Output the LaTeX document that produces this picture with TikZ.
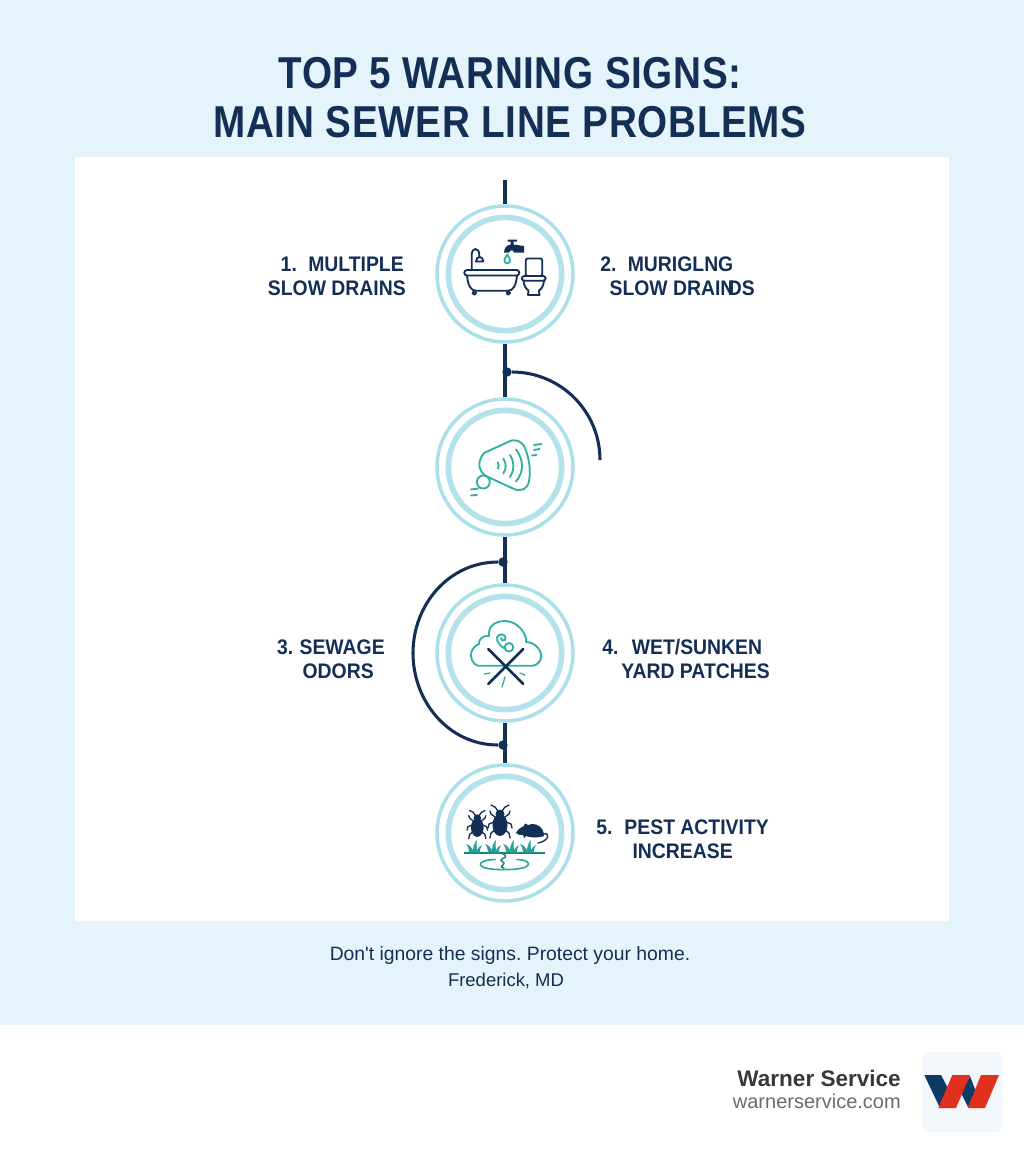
\documentclass[tikz,border=0pt]{standalone}
\usepackage{fontspec}
\setmainfont{Liberation Sans}
\newfontfamily\titlefont[LetterSpace=1.5,FakeStretch=0.865]{Liberation Sans}
\newfontfamily\labelfont[FakeStretch=0.92]{Liberation Sans}
\newfontfamily\notefont{Liberation Sans}
\definecolor{skyback}{HTML}{E5F4FA}
\definecolor{navyline}{HTML}{142F55}
\definecolor{ringblue}{HTML}{ABDFE9}
\definecolor{tealicon}{HTML}{2FB0A3}
\definecolor{darkteal}{HTML}{1F7F7C}
\definecolor{logoback}{HTML}{F2F7FC}
\definecolor{logonavy}{HTML}{0F3A66}
\definecolor{logored}{HTML}{E2301F}
\tikzset{
  outerring/.style={circle, draw=ringblue, line width=2.6pt, fill=white, minimum size=102pt, inner sep=0pt},
  innerring/.style={circle, draw=ringblue!90!white, line width=4.2pt, minimum size=85pt, inner sep=0pt},
  spine/.style={draw=navyline, line width=2.3pt},
  spinedot/.style={circle, fill=navyline, minimum size=7pt, inner sep=0pt},
  signlabel/.style={font=\fontsize{15.8pt}{18pt}\selectfont\labelfont\bfseries, text=navyline, inner sep=0pt},
  noteline/.style={text=navyline, inner sep=0pt},
  darkicon/.style={draw=navyline, line width=1.4pt, line cap=round, line join=round},
  tealstroke/.style={draw=tealicon, line width=1.4pt, line cap=round, line join=round},
}
\newcommand{\bugicon}[3]{% x, y, scale
  \begin{scope}[shift={(#1,#2)}, scale=#3]
    \fill[navyline] (0,3) ellipse (7.5 and 11);
    \fill[navyline] (0,-8) circle (4.5);
    \foreach \s in {-1,1} {
      \draw[navyline, line width=1pt, line cap=round]
        (\s*2,-11) -- (\s*5,-15) -- (\s*9,-17)
        (\s*5,-5) -- (\s*9,-8) -- (\s*10,-11)
        (\s*6,0) -- (\s*11,2) -- (\s*12,6)
        (\s*5,8) -- (\s*9,11) -- (\s*10,16);
    }
  \end{scope}}
\begin{document}
\frenchspacing
\begin{tikzpicture}[x=0.75pt, y=-0.75pt]
  \useasboundingbox (0,0) rectangle (1024,1154);

  % Background
    \fill[white] (0,0) rectangle (1024,1154);
    \fill[skyback] (0,0) rectangle (1024,1025);
    \fill[white] (75,157) rectangle (949,921);

  % Title
    \node[font=\fontsize{33.5pt}{36.75pt}\selectfont\titlefont\bfseries, text=navyline, align=center, inner sep=0pt] (title) at (510,98)
      {TOP 5 WARNING SIGNS:\\MAIN SEWER LINE PROBLEMS};

  % Rings
    \foreach \n/\y in {1/274,2/467,3/653,4/833} {
      \node[outerring] (sign\n) at (505,\y) {};
      \node[innerring] (inner\n) at (505,\y) {};
    }

  % Spine and arcs
    \coordinate (spinetop) at (505,180);
    \coordinate (arcend) at (600,460);
    \coordinate (arcleft) at (413,653);
    \node[spinedot] (dot1) at (507,372) {};
    \node[spinedot] (dot2) at (503,562) {};
    \node[spinedot] (dot3) at (503,745) {};
    \draw[spine] (spinetop) -- (sign1);
    \draw[spine] (sign1) -- (sign2);
    \draw[spine] (sign2) -- (sign3);
    \draw[spine] (sign3) -- (sign4);
    \draw[spine] (dot1) to[out=0, in=90, looseness=1] (arcend);
    \draw[spine] (dot2) to[out=180, in=90, looseness=1] (arcleft);
    \draw[spine] (arcleft) to[out=-90, in=180, looseness=1] (dot3);

  % Labels
    \node[signlabel, anchor=east] (sign1top) at (404,264) {1.\kern4.5pt\ MULTIPLE};
    \node[signlabel, anchor=east] (sign1low) at (406,288) {SLOW DRAINS};
    \node[signlabel, anchor=west] (sign2top) at (600,264) {2.\kern4.5pt\ MURIGLNG};
    \node[signlabel, anchor=east] (sign2low) at (755,288) {SLOW DRAIN\kern-5pt DS};
    \node[signlabel, anchor=east] (sign3top) at (385,647) {3.\kern0.8pt\ SEWAGE};
    \node[signlabel, anchor=west] (sign4top) at (602,647) {4.\kern6pt\ WET/SUNKEN};
    \node[signlabel, anchor=east] (sign3low) at (374,671) {ODORS};
    \node[signlabel, anchor=east] (sign4low) at (770,671) {YARD PATCHES};
    \node[signlabel, anchor=west] (sign5top) at (596,827) {5.\kern5pt\ PEST ACTIVITY};
    \node[signlabel, anchor=east] (sign5low) at (733,851) {INCREASE};

  % Bath icon
    \draw[darkicon] (471.7,269) -- (471.7,255) .. controls (471.7,247) and (479.3,247) .. (479.3,255) -- (479.3,257);
    \draw[darkicon] (476,261.5) .. controls (476,255.5) and (483.3,255.5) .. (483.3,261.5) -- cycle;
    \draw[darkicon, rounded corners=2pt] (464.3,270) rectangle (519.3,275.5);
    \draw[darkicon] (467,275.5) .. controls (468,286) and (471,290.7) .. (476,290.7) -- (508,290.7) .. controls (513,290.7) and (516,286) .. (517,275.5);
    \draw[darkicon] (474.3,293) circle (1.8);
    \draw[darkicon] (508.3,293) circle (1.8);
    \fill[navyline] (507.5,239.5) -- (517,239.5) -- (517,241.5) -- (513.5,241.5) -- (513.5,244.5) -- (524,246) -- (524,252.5) -- (514,252.5) .. controls (513,249.5) and (511,249.5) .. (509,252.5) -- (504,252.5) .. controls (504.5,248) and (506,245.5) .. (510.5,244.5) -- (510.5,241.5) -- (507.5,241.5) -- cycle;
    \draw[tealstroke] (507.3,254.5) .. controls (505,258) and (504,260) .. (504.5,261) .. controls (505,264) and (509.5,264) .. (510,261) .. controls (510.5,260) and (509.5,258) .. (507.3,254.5) -- cycle;
    \draw[darkicon, rounded corners=1.5pt] (525.7,258.5) rectangle (542.3,276);
    \draw[darkicon, rounded corners=2pt] (521.7,276) rectangle (545.7,280.7);
    \draw[darkicon] (523.5,280.7) .. controls (524,286) and (526,289) .. (528.5,290.5) -- (528,295) -- (539.5,295) -- (539,290.5) .. controls (541.5,289) and (543.5,286) .. (544,280.7);

  % Speech icon
    \draw[tealstroke] (484,453) -- (508,442) .. controls (515,438) and (522,441) .. (525,448) .. controls (529,458) and (531,470) .. (529,481) .. controls (528,489) and (521,492) .. (514,489) -- (488,477) .. controls (479,473) and (476,463) .. (484,453) -- cycle;
    \draw[tealstroke, fill=white] (483.3,482) circle (6.5);
    \draw[tealstroke] (497.7,462.3) .. controls (499,465) and (499,466) .. (498,468.5);
    \draw[tealstroke] (503.3,458.5) .. controls (506.5,463) and (506.5,469) .. (503.3,473.5);
    \draw[tealstroke] (510,455) .. controls (514.5,462) and (514.5,470) .. (510,477);
    \draw[tealstroke] (516,449.5) .. controls (524,460) and (524,472) .. (516,481.5);
    \draw[tealstroke] (534,445) -- (541.5,444) (534,450) -- (539.5,449) (532,455.5) -- (536.5,455)
      (471,489.5) -- (478,488.5) (471,495.5) -- (477,495);

  % Cloud icon
    \draw[tealstroke] (478,665.7) -- (533,665.7) .. controls (541,664) and (544,655) .. (538,648) .. controls (535,644) and (530,642) .. (526,642)
      .. controls (527,633) and (517,621) .. (505,621) .. controls (494,621) and (488,627) .. (489,636)
      .. controls (483,635) and (478,640) .. (479,644) .. controls (472,647) and (469,654) .. (472,660) .. controls (473,663) and (475,665) .. (478,665.7);
    \draw[tealstroke] (504,648) .. controls (497,644) and (495,637) .. (499,635) .. controls (503,633) and (507,636) .. (505,640) .. controls (503,642) and (501,640) .. (501,638);
    \draw[tealstroke] (509,647.3) circle (4.3);
    \draw[darkicon, line width=2pt] (488.3,649) -- (523.3,684) (523.3,649) -- (488.3,684);
    \draw[tealstroke, line width=1pt] (484.5,674) -- (490,673) (520,673) -- (525,675) (505,677) -- (502,687);

  % Pests icon
    \bugicon{477.3}{825}{0.85}
    \bugicon{500}{822}{1}
    \fill[navyline] (516,833) .. controls (518,829) and (521,827) .. (524,826) .. controls (524,823) and (527,823) .. (528,825) .. controls (536,822) and (544,827) .. (544,836)
      .. controls (540,838) and (530,838) .. (526,836) -- (524,838) -- (523,835) .. controls (520,835) and (518,835) .. (516,833) -- cycle;
    \draw[navyline, line width=1pt, line cap=round] (543,834) .. controls (551,832) and (549,841) .. (538,843);
    \draw[darkteal, line width=1.2pt] (464,852.7) -- (545,852.7);
    \foreach \g in {474,493,511,528} {
      \fill[tealicon!70!darkteal] (\g-5,852.7) .. controls (\g-5,848) and (\g-7,845) .. (\g-8,844) .. controls (\g-4,845) and (\g-2,848) .. (\g-1,850) .. controls (\g-1,846) and (\g+1,842) .. (\g+3,840) .. controls (\g+2,845) and (\g+3,849) .. (\g+3,850) .. controls (\g+4,848) and (\g+6,846) .. (\g+8,845) .. controls (\g+6,848) and (\g+6,850) .. (\g+6,852.7) -- cycle;
    }
    \draw[tealicon!80!darkteal, line width=1.2pt, line cap=round] (495,859.5) .. controls (474,860) and (474,870.5) .. (505,869.5) .. controls (534,870) and (534,860) .. (517,859.5);
    \draw[darkteal, line width=1.1pt, line cap=round] (501,853) .. controls (507,855) and (507,857) .. (502,859) .. controls (498,861) and (507,862) .. (503,865) .. controls (500,867) and (502,868) .. (504,868);

  % Footer
    \node[noteline, font=\fontsize{14.5pt}{16pt}\selectfont\notefont] (note1) at (510,955) {Don't ignore the signs. Protect your home.};
    \node[noteline, font=\fontsize{13.85pt}{16pt}\selectfont] (note2) at (506,981) {Frederick, MD};

    \node[anchor=east, inner sep=0pt, text=black!78, font=\fontsize{16.9pt}{20pt}\selectfont\bfseries] (brand) at (901,1078) {Warner Service};
    \node[anchor=east, inner sep=0pt, text=black!58, font=\fontsize{15pt}{18pt}\selectfont] (site) at (901,1101) {warnerservice.com};

  % Logo
    \fill[logoback, rounded corners=5pt] (922,1052) rectangle (1002,1132);
    \fill[logonavy] (924.3,1075) -- (941,1075) -- (950,1092) -- (943,1108) -- (940,1108) -- cycle;
    \fill[logonavy] (970,1076) -- (976,1092) -- (968,1107) -- (961,1093) -- cycle;
    \fill[logored] (952.3,1075) -- (970,1075) -- (956,1108) -- (938.3,1108) -- cycle;
    \fill[logored] (981,1075) -- (999,1075) -- (985,1108) -- (967.7,1108) -- cycle;
\end{tikzpicture}
\end{document}
